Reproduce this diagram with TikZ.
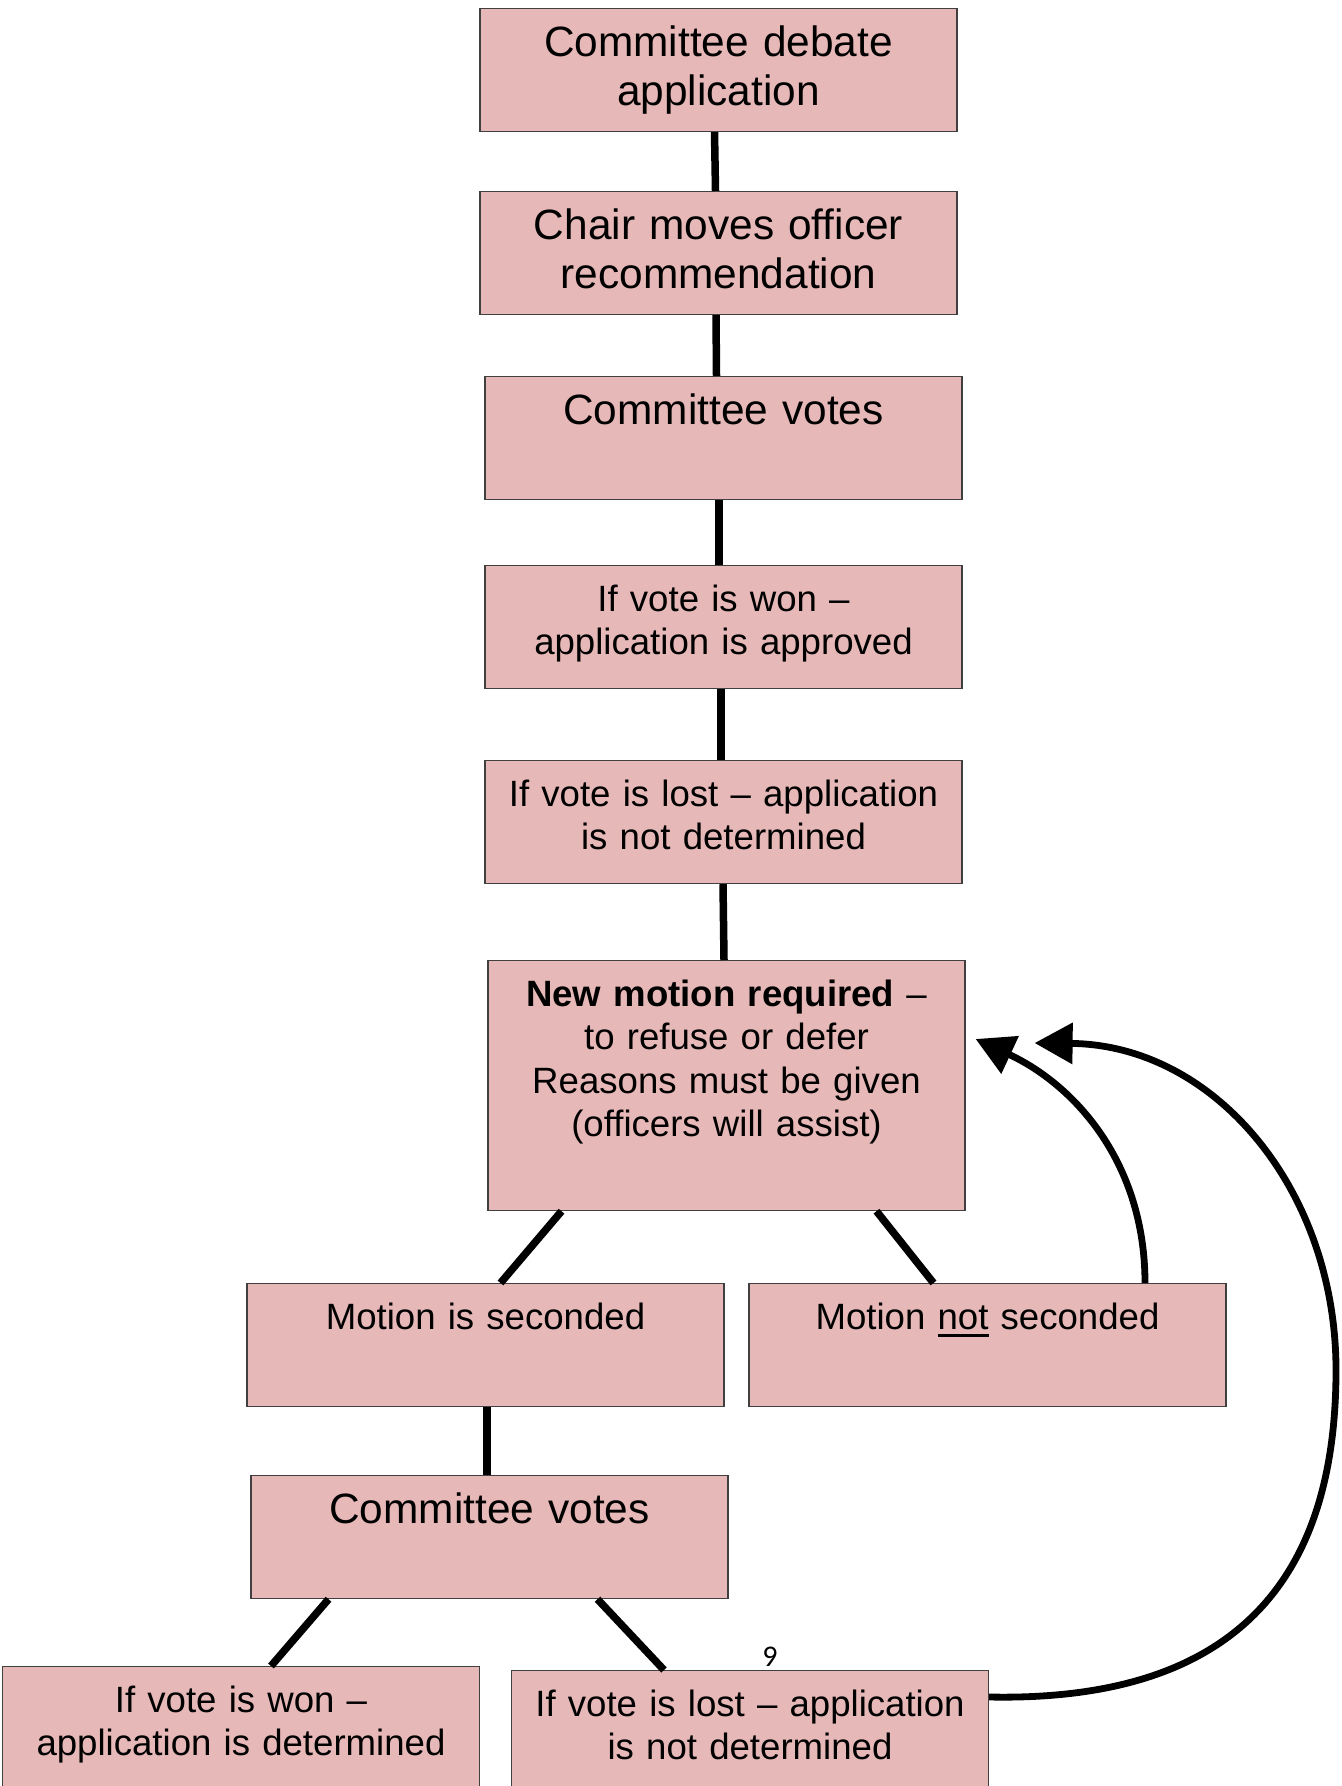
\documentclass[tikz,border=0pt]{standalone}
\usepackage{fontspec}
\setmainfont{Liberation Sans}
\newfontfamily\pagenumfont{Carlito}
\usepackage{tikz}
\usetikzlibrary{positioning,calc,arrows.meta}
\definecolor{boxpink}{HTML}{E6B8B7}
\definecolor{boxline}{HTML}{404040}
\newcommand{\thickul}[1]{\setbox0\hbox{#1}\rlap{\rule[-3.6pt]{\wd0}{1.3pt}}\box0\relax}

\tikzset{
  flowbox/.style={draw=boxline, line width=0.6pt, fill=boxpink, anchor=north,
    text width=230.5pt, align=center, inner xsep=4pt, inner ysep=4pt,
    font=\fontsize{18.3}{21.6}\selectfont, text height=19pt, text depth=34.5pt},
  bigbox/.style={flowbox, font=\fontsize{21.2}{24.5}\selectfont,
    text height=20pt, text depth=33.5pt},
  tallbox/.style={flowbox, text depth=98pt},
  link/.style={line width=3.75pt},
  backarrow/.style={line width=3.4pt, -{Triangle[length=19pt,width=20pt]}}
}

\begin{document}
\begin{tikzpicture}[x=0.5pt, y=-0.5pt]
  \useasboundingbox (0,0) rectangle (1342,1786);
  % main column
  \node[bigbox] (debate) at (718.5,8) {Committee debate\\application};
  \node[bigbox] (chair) at (718.5,191) {Chair moves officer\\recommendation};
  \node[bigbox] (votes) at (723.5,376) {Committee votes};
  \node[flowbox] (won) at (723.5,565) {If vote is won --\\application is approved};
  \node[flowbox] (lost) at (723.5,760) {If vote is lost -- application\\is not determined};
  \node[tallbox] (newmotion) at (726.5,960) {\textbf{New motion required} --\\to refuse or defer\\Reasons must be given\\(officers will assist)};
  % second round
  \node[flowbox] (seconded) at (485.5,1283) {Motion is seconded};
  \node[flowbox] (notseconded) at (987.5,1283) {Motion \thickul{not} seconded};
  \node[bigbox] (votestwo) at (489.5,1475) {Committee votes};
  \node[flowbox] (wontwo) at (241,1666) {If vote is won --\\application is determined};
  \node[flowbox] (losttwo) at (750,1670) {If vote is lost -- application\\is not determined};
  \node[font=\pagenumfont\fontsize{15}{17}\selectfont, anchor=base] (pagenum) at (770,1666) {9};

  \draw[link] ($(debate.south)+(-4,0)$) -- ($(chair.north)+(-3,0)$);
  \draw[link] ($(chair.south)+(-2.5,0)$) -- ($(votes.north)+(-7,0)$);
  \draw[link] ($(votes.south)+(-4.5,0)$) -- ($(won.north)+(-4.5,0)$);
  \draw[link] ($(won.south)+(-2.5,0)$) -- ($(lost.north)+(-2.5,0)$);
  \draw[link] ($(lost.south)+(-0.5,0)$) -- ($(newmotion.north)+(-2.5,0)$);
  \draw[link] ($(newmotion.south)+(-165,0)$) -- ($(seconded.north)+(15,0)$);
  \draw[link] ($(newmotion.south)+(150,0)$) -- ($(notseconded.north)+(-54,0)$);
  \draw[link] ($(seconded.south)+(1.5,0)$) -- ($(votestwo.north)+(-2.5,0)$);
  \draw[link] ($(votestwo.south)+(-161,0)$) -- ($(wontwo.north)+(30,0)$);
  \draw[link] ($(votestwo.south)+(108,0)$) -- ($(losttwo.north)+(-86,0)$);

  % back to the new motion
  \draw[backarrow] ($(notseconded.north)+(157.5,0)$) .. controls +(0,-120) and (1075,1085) .. ($(newmotion.north east)+(10,79)$);
  \draw[backarrow] ($(losttwo.north east)+(0,27)$) .. controls (1240,1702) and (1336,1575) .. (1336,1370)
    .. controls (1336,1190) and (1215,1045) .. ($(newmotion.north east)+(69,83)$);
\end{tikzpicture}
\end{document}
